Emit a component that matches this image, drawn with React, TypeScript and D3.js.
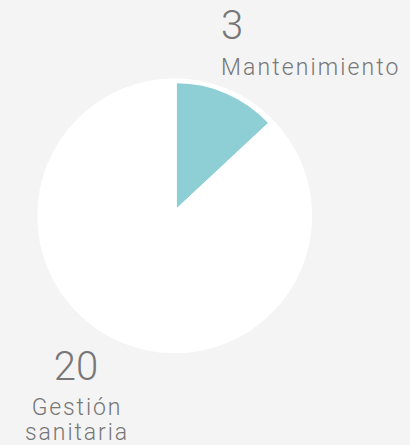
import React from "react";
import * as d3 from "d3";

const categories = ["Mantenimiento", "Gestión sanitaria"];
const values = [3, 20];
const colors = ["#8ecfd5", "#ffffff"];

const W = 410;
const H = 445;

export default function App() {
  const pie = d3.pie<number>().sort(null).value((d) => d);
  const arcs = pie(values);
  const arc = d3.arc<d3.PieArcDatum<number>>().innerRadius(0).outerRadius(125);
  const font = "Roboto, 'DejaVu Sans', sans-serif";
  const textColor = "#777777";
  return (
    <svg width={W} height={H} style={{ position: "fixed", left: 0, top: 0, background: "#f4f4f4" }}>
      <rect width={W} height={H} fill="#f4f4f4" />
      <circle cx={174.7} cy={215.8} r={137.5} fill="#ffffff" />
      <g transform="translate(176.7,208.3)">
        {arcs.map((a, i) => (
          <path key={categories[i]} d={arc(a) || ""} fill={colors[i]} />
        ))}
      </g>
      <g fontFamily={font} fill={textColor} fontWeight={300}>
        <text x={221} y={39} fontSize={40}>{values[0]}</text>
        <text x={221} y={75} fontSize={23} letterSpacing={2.1}>{categories[0]}</text>
        <text x={76} y={380} fontSize={40} textAnchor="middle">{values[1]}</text>
        <text x={77} y={415} fontSize={23} textAnchor="middle" letterSpacing={1.9}>Gestión</text>
        <text x={77} y={440} fontSize={23} textAnchor="middle" letterSpacing={1.9}>sanitaria</text>
      </g>
    </svg>
  );
}
